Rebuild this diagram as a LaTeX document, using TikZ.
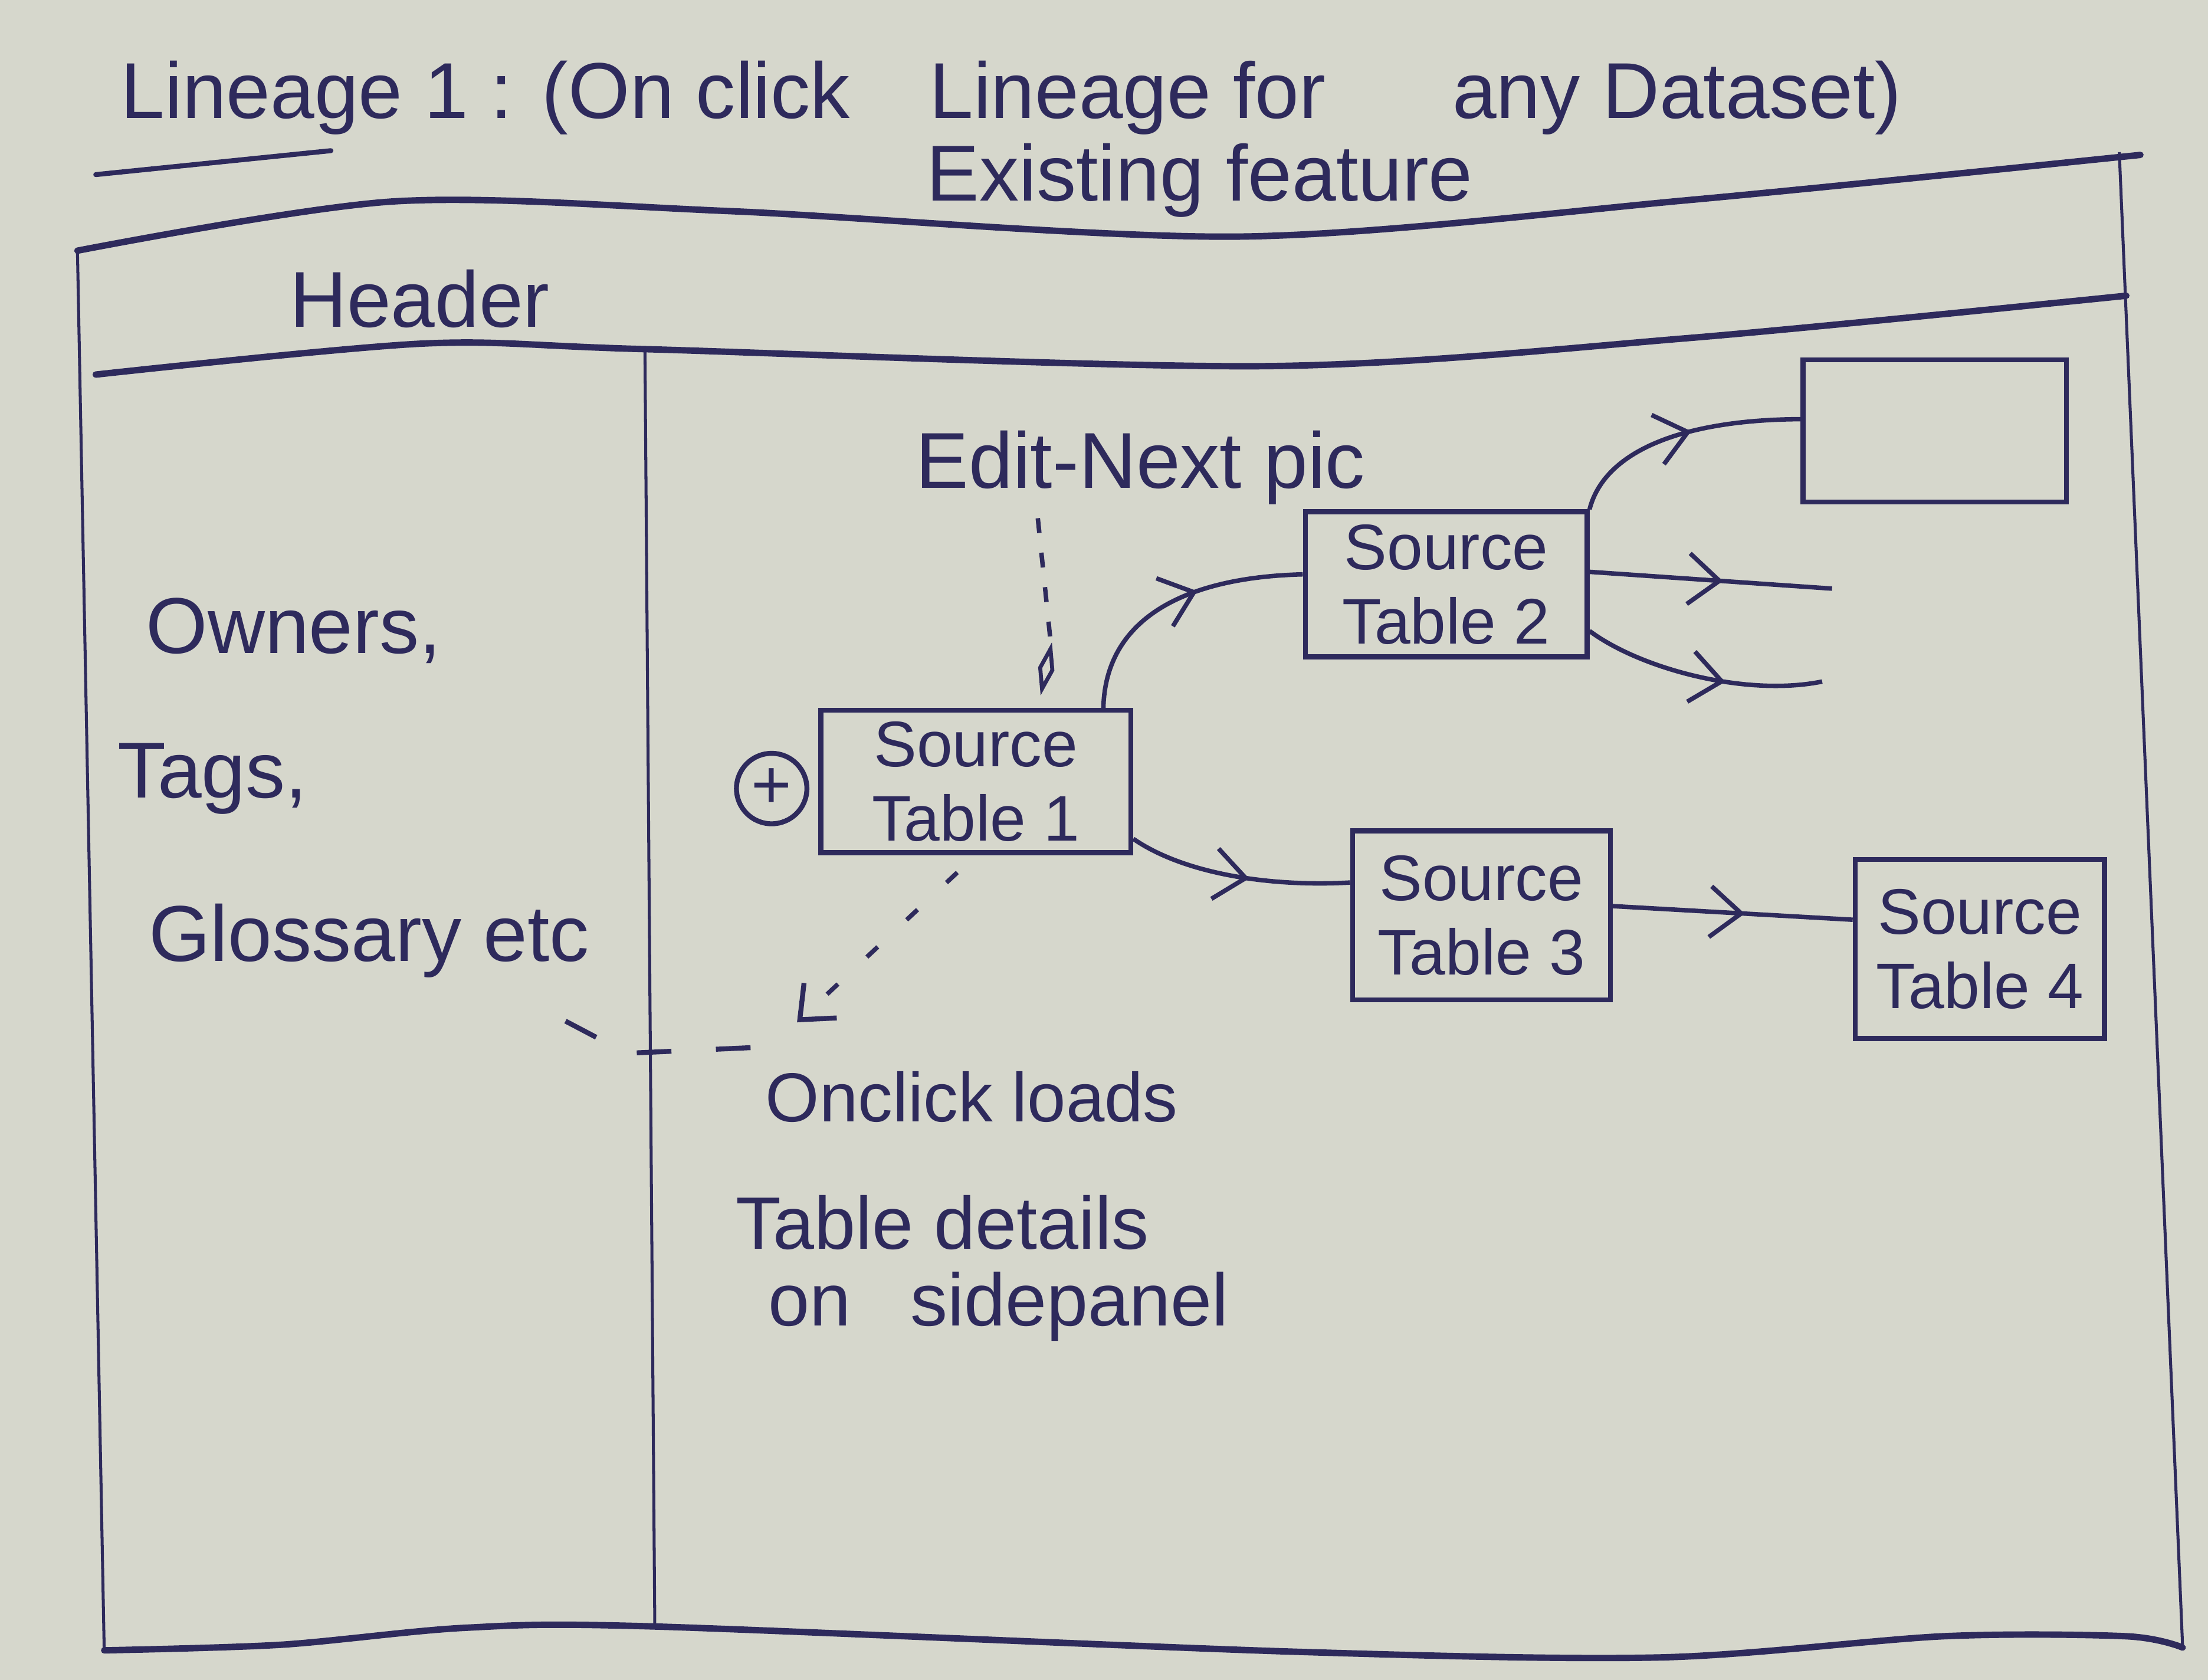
\documentclass[tikz,border=0pt]{standalone}
\usepackage{fontspec}
\setmainfont{Liberation Sans}
\usetikzlibrary{arrows.meta,decorations.markings,shapes.geometric}
\definecolor{ink}{HTML}{2E2A5C}
\definecolor{paper}{HTML}{D6D7CC}
\begin{document}
\begin{tikzpicture}[x=0.01cm,y=-0.01cm,color=ink,
  frameline/.style={line width=1.3pt,line cap=round,line join=round},
  thinline/.style={line width=0.6pt},
  tbl/.style={draw,line width=1pt,rectangle,align=center,inner sep=0pt,
    font=\fontsize{13}{15}\selectfont},
  lbl/.style={inner sep=0pt,font=\fontsize{16}{19}\selectfont},
  note/.style={inner sep=0pt,font=\fontsize{15}{18}\selectfont},
  flow/.style={line width=0.9pt,postaction={decorate},
    decoration={markings,mark=at position #1 with
      {\arrow{Straight Barb[length=2.2mm,width=3.6mm,line width=0.9pt]}}}},
  dotline/.style={line width=0.9pt,dash pattern=on 3pt off 4pt},
  dashlink/.style={line width=0.9pt,dash pattern=on 3pt off 8pt},
  dashside/.style={line width=1pt,dash pattern=on 7pt off 9pt}]
\useasboundingbox (0,0) rectangle (1568,1193);
\fill[paper] (0,0) rectangle (1568,1193);

% title
\node[lbl,anchor=base west] (title) at (85,84)
  {Lineage 1 : (On click\hspace{1em}Lineage for\hspace{1.6em}any Dataset)};
\draw[frameline,line width=1pt] (68,124) -- (235,107);
\node[lbl] (exist) at (852,128) {Existing feature};

% frame
\draw[frameline] plot[smooth] coordinates {(55,178) (280,143) (520,150) (880,168) (1200,142) (1520,110)};
\draw[frameline] plot[smooth] coordinates {(68,266) (300,244) (460,248) (900,260) (1200,240) (1510,210)};
\draw[frameline] plot[smooth] coordinates {(74,1172) (200,1168) (330,1156) (463,1155) (920,1173) (1180,1177) (1380,1162) (1510,1162) (1550,1170)};
\draw[thinline] (55,178) -- (74,1172);
\draw[thinline] (1505,108) -- (1550,1170);
\draw[thinline] (458,247) -- (465,1155);

\node[lbl] (header) at (298,212) {Header};

% side panel
\node[lbl,anchor=west] (owners) at (103,448) {Owners,};
\node[lbl,anchor=west] (tags) at (83,553) {Tags,};
\node[lbl,anchor=west] (gloss) at (105,668) {Glossary etc};

% lineage graph
\node[tbl,minimum width=2.2cm,minimum height=1.01cm] (t1) at (693,555) {Source\\Table 1};
\node[tbl,minimum width=2.0cm,minimum height=1.03cm] (t2) at (1027,415) {Source\\Table 2};
\node[tbl,minimum width=1.83cm,minimum height=1.2cm] (t3) at (1052,650) {Source\\Table 3};
\node[tbl,minimum width=1.77cm,minimum height=1.27cm] (t4) at (1406,674) {Source\\Table 4};
\node[tbl,minimum width=1.87cm,minimum height=1.01cm] (eb) at (1374,306) {};
\node[circle,draw,line width=1pt,minimum size=0.5cm,inner sep=0pt,
  font=\fontsize{14}{14}\selectfont] (plus) at (548,560) {+};

\coordinate (f1) at (1301,418);
\coordinate (f2) at (1294,484);

\draw[flow=0.6] (t1.30) .. controls (785,440) and (840,410) .. (t2.176);
\draw[flow=0.55] (t1.-20) .. controls (840,620) and (900,630) .. (t3.166);
\draw[flow=0.55] (t3.4) -- (t4.167);
\draw[flow=0.55] (t2.north east) .. controls (1140,318) and (1200,298) .. (eb.175);
\draw[flow=0.55] (t2.5) -- (f1);
\draw[flow=0.6] (t2.-18) .. controls (1165,475) and (1240,495) .. (f2);

% edit note
\node[lbl] (edit) at (810,332) {Edit-Next pic};
\coordinate (d0) at (737,368);
\node[diamond,draw,line width=0.8pt,inner sep=0pt,minimum width=0.1cm,
  minimum height=0.3cm,rotate=-12] (dia) at (743,475) {};
\draw[dotline] (d0) -- (dia.north);

% onclick note
\coordinate (tip) at (566,726);
\draw[dashlink,-{Straight Barb[length=2mm,width=3.4mm,line width=1pt]},shorten <=0.18cm] (t1.south) -- (tip);
\coordinate (s0) at (533,744);
\coordinate (s1) at (445,748);
\coordinate (s2) at (388,718);
\draw[dashside] (s0) -- (s1) -- (s2);

\node[note,anchor=west,font=\fontsize{14}{17}\selectfont] (onclick) at (543,779) {Onclick loads};
\node[note,anchor=west] (tdet) at (522,868) {Table details};
\node[note,anchor=west] (onside) at (545,928) {on\hspace{0.8em}sidepanel};
\end{tikzpicture}
\end{document}
